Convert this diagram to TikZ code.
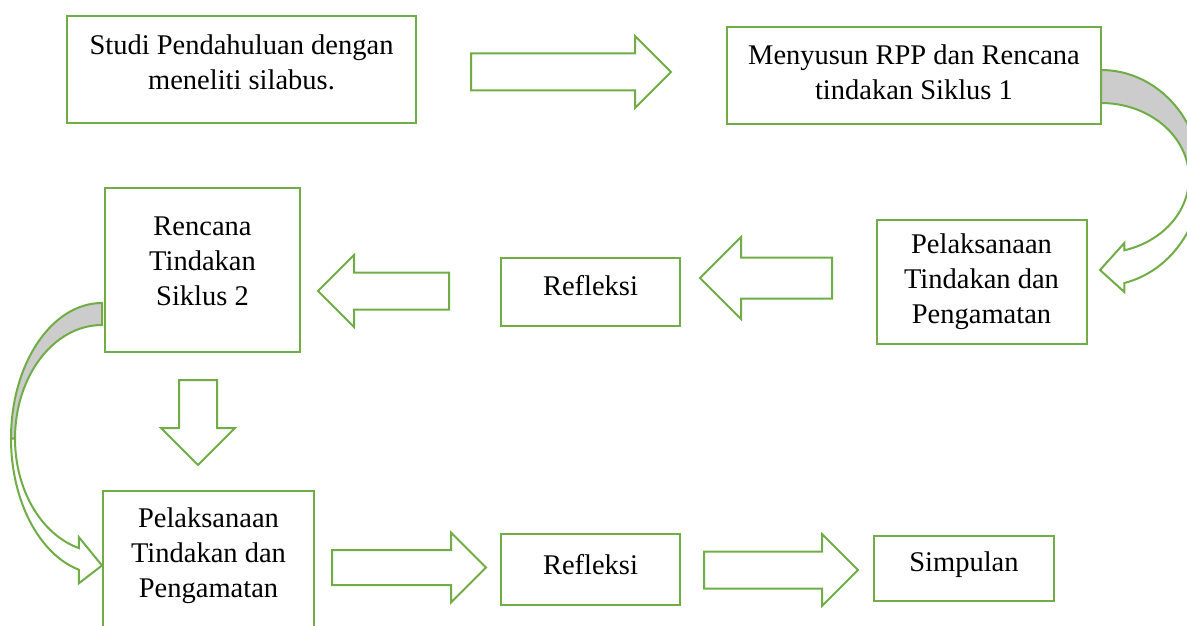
\documentclass[tikz,border=0pt]{standalone}
\usepackage{fontspec}
\setmainfont{Liberation Serif}
\usepackage{tikz}
\usetikzlibrary{shapes.arrows,calc}
\definecolor{grn}{HTML}{70AD47}
\tikzset{box/.style={draw=grn,line width=2pt,align=center,inner sep=0pt,font=\fontsize{28.5}{35}\selectfont},lift/.style={execute at end node={\rule[-#1]{0pt}{#1}}}}
\tikzset{blk/.style={single arrow,anchor=tail,draw=grn,line width=2pt,fill=white,inner xsep=0pt,inner ysep=17.5pt,minimum width=70pt,single arrow head extend=17.5pt},band/.style={draw=grn,line width=2pt,fill=black!20},rib/.style={draw=grn,line width=2pt,fill=white}}

\begin{document}
\begin{tikzpicture}[x=1pt,y=-1pt]
\useasboundingbox (0,0) rectangle (1187,626);
\node[box,lift=14pt,minimum width=349,minimum height=107] (s1) at (241.5,69.5) {Studi Pendahuluan dengan\\meneliti silabus.};
\node[box,lift=6pt,minimum width=374,minimum height=97] (s2) at (914,75.5) {Menyusun RPP dan Rencana\\tindakan Siklus 1};
\node[box,lift=17pt,minimum width=195,minimum height=164] (s3) at (202.5,270) {Rencana\\Tindakan\\Siklus 2};
\node[box,lift=13pt,minimum width=179,minimum height=68] (s4) at (590.5,292) {Refleksi};
\node[box,minimum width=210,minimum height=124] (s5) at (981.5,282) {Pelaksanaan\\Tindakan dan\\Pengamatan};
\node[box,lift=26pt,minimum width=211,minimum height=149] (s6) at (208.5,565.5) {Pelaksanaan\\Tindakan dan\\Pengamatan};
\node[box,lift=10pt,minimum width=179,minimum height=71] (s7) at (590.5,569) {Refleksi};
\node[box,lift=13pt,minimum width=180,minimum height=65] (s8) at (964,568.5) {Simpulan};
% block arrows
\node[blk,minimum height=200] (a1) at (470,72) {};
\node[blk,minimum height=132,inner ysep=19.5pt,minimum width=80pt,single arrow head extend=20.5pt,shape border rotate=180] (a2) at (833,278) {};
\node[blk,minimum height=131,shape border rotate=180] (a3) at (450,291) {};
\node[blk,minimum height=85,inner xsep=18pt,inner ysep=0pt,minimum width=72pt,single arrow head extend=18pt,shape border rotate=270] (a4) at (198,379) {};
\node[blk,minimum height=154,inner ysep=16.5pt] (a5) at (331,567.5) {};
\node[blk,minimum height=154] (a6) at (703,570) {};
% curved arrows
\filldraw[band] ($(s2.east)+(-1,-5.5)$) arc[start angle=-90,end angle=0,x radius=100,y radius=108] coordinate (r2)
 -- ++(-12,0) arc[start angle=0,end angle=-90,x radius=88,y radius=75] -- cycle;
\filldraw[rib] (r2) arc[start angle=0,end angle=76.5,x radius=100,y radius=108]
 -- ++(0,9) -- ++(-24.35,-22) -- ++(24.35,-27) -- ++(0,7.3)
 arc[start angle=74.6,end angle=0,x radius=88,y radius=75] -- cycle;
\filldraw[band] ($(s3.west)+(-2,33)$) arc[start angle=-90,end angle=-180,x radius=91,y radius=135.6] coordinate (l2)
 -- ++(4,0) arc[start angle=-180,end angle=-90,x radius=87,y radius=113.6] -- cycle;
\filldraw[rib] (l2) arc[start angle=-180,end angle=-255.3,x radius=91,y radius=135.6]
 -- ++(0,13.5) -- (s6.west) -- ++(-23.1,-28.3) -- ++(0,10.9)
 arc[start angle=-254.6,end angle=-180,x radius=87,y radius=113.6] -- cycle;
\end{tikzpicture}
\end{document}
